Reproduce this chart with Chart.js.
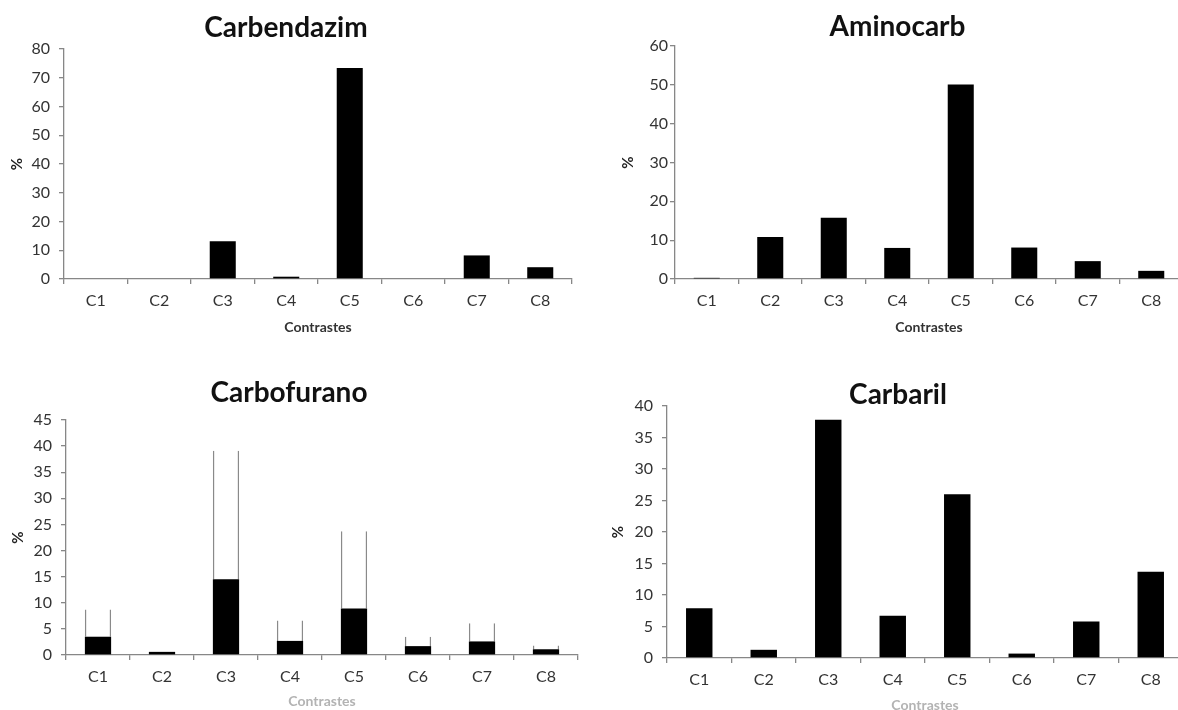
<!DOCTYPE html>
<html>
<head>
<meta charset="utf-8">
<title>Contrastes</title>
<script src="https://cdn.jsdelivr.net/npm/chart.js@4"></script>
<style>
    html, body { margin: 0; padding: 0; background: #fff; }
    body { width: 1178px; height: 710px; overflow: hidden; position: relative; }
    .panel { position: absolute; }
</style>
</head>
<body>
<canvas id="chart-carbendazim" class="panel" width="590" height="350" style="left:0;top:0"></canvas>
<canvas id="chart-aminocarb" class="panel" width="600" height="350" style="left:590px;top:0"></canvas>
<canvas id="chart-carbofurano" class="panel" width="590" height="350" style="left:0;top:370px"></canvas>
<canvas id="chart-carbaril" class="panel" width="600" height="350" style="left:590px;top:370px"></canvas>
<script>
// --- DATA ---

const contrastes = ['C1', 'C2', 'C3', 'C4', 'C5', 'C6', 'C7', 'C8'];

const carbendazim = [0, 0, 13.1, 0.8, 73.4, 0, 8.2, 4.1];
const aminocarb = [0.3, 10.8, 15.8, 8.0, 50.1, 8.1, 4.6, 2.1];
const carbofurano = [3.5, 0.6, 14.5, 2.7, 8.9, 1.7, 2.6, 1.1];
const carbofuranoSup = [8.7, null, 39.1, 6.6, 23.7, 3.5, 6.1, 1.8];
const carbaril = [7.9, 1.3, 37.8, 6.7, 26.0, 0.7, 5.8, 13.7];

// --- SHARED STYLE ---

Chart.defaults.font.family = 'Lato, "Open Sans", sans-serif';
Chart.defaults.color = '#333';

const AXIS_GREY = '#878787';

function blackBars(values) {
    return {
        data: values,
        backgroundColor: '#000',
        borderWidth: 0,
        categoryPercentage: 0.41,
        barPercentage: 1,
        grouped: false,
        order: 1
    };
}

// p: layout numbers for one panel (axis box sizes, paddings)
function makePanel(id, title, datasets, yMax, yStep, p) {
    const ctx = document.getElementById(id).getContext('2d');
    return new Chart(ctx, {
        type: 'bar',
        data: { labels: contrastes, datasets: datasets },
        options: {
            responsive: false,
            animation: false,
            events: [],
            layout: { padding: { left: p.padLeft, right: p.padRight, top: 0, bottom: 0 } },
            plugins: {
                legend: { display: false },
                tooltip: { enabled: false },
                title: {
                    display: true,
                    text: title,
                    color: '#111',
                    font: { size: 28, weight: 'bold' },
                    padding: { top: p.titleTop, bottom: p.titleBottom }
                }
            },
            scales: {
                x: {
                    afterFit: (scale) => { scale.height = p.xHeight; },
                    border: { color: AXIS_GREY, width: 1.3 },
                    grid: { display: true, offset: true, drawOnChartArea: false, tickLength: 5, color: AXIS_GREY, lineWidth: 1.3 },
                    ticks: { color: '#333', font: { size: 16 }, padding: 7 },
                    title: {
                        display: true,
                        text: 'Contrastes',
                        color: p.xTitleColor,
                        font: { size: 14, weight: 'bold' },
                        padding: { top: 0, bottom: p.xTitleBottom }
                    }
                },
                y: {
                    min: 0,
                    max: yMax,
                    afterFit: (scale) => { scale.width = p.yWidth; },
                    border: { color: AXIS_GREY, width: 1.3 },
                    grid: { display: true, drawOnChartArea: false, tickLength: 5, color: AXIS_GREY, lineWidth: 1.3 },
                    ticks: { stepSize: yStep, color: '#333', font: { size: 16 }, padding: p.yTickPad },
                    title: {
                        display: true,
                        text: '%',
                        color: '#222',
                        font: { size: 15, weight: 'bold' },
                        padding: { top: p.yTitleTop, bottom: 0 }
                    }
                }
            }
        }
    });
}

// --- CHARTS ---

makePanel('chart-carbendazim', 'Carbendazim', [blackBars(carbendazim)], 80, 10, {
    padLeft: 0, padRight: 18, yWidth: 64, xHeight: 71,
    titleTop: 10.8, titleBottom: 4.6, xTitleBottom: 14.4, xTitleColor: '#333',
    yTickPad: 9, yTitleTop: 8
});

makePanel('chart-aminocarb', 'Aminocarb', [blackBars(aminocarb)], 60, 10, {
    padLeft: 22, padRight: 7, yWidth: 63, xHeight: 71,
    titleTop: 9.8, titleBottom: 2.6, xTitleBottom: 14.4, xTitleColor: '#333',
    yTickPad: 2, yTitleTop: 7
});

// Carbofurano: black bar plus an open upper range (side lines only)
const carbofuranoRange = carbofurano.map((v, i) => carbofuranoSup[i] === null ? null : [v, carbofuranoSup[i]]);

makePanel('chart-carbofurano', 'Carbofurano', [
    blackBars(carbofurano),
    {
        data: carbofuranoRange,
        backgroundColor: 'rgba(255,255,255,0)',
        borderColor: '#8a8a8a',
        borderWidth: { top: 0, bottom: 0, left: 1.3, right: 1.3 },
        borderSkipped: false,
        categoryPercentage: 0.41,
        barPercentage: 1,
        grouped: false,
        order: 2
    }
], 45, 5, {
    padLeft: 0, padRight: 12, yWidth: 66, xHeight: 65,
    titleTop: 5.8, titleBottom: 10.6, xTitleBottom: 9.9, xTitleColor: '#b3b3b3',
    yTickPad: 9, yTitleTop: 9
});

makePanel('chart-carbaril', 'Carbaril', [blackBars(carbaril)], 40, 5, {
    padLeft: 23, padRight: 7, yWidth: 54, xHeight: 62,
    titleTop: 7.8, titleBottom: -5.4, xTitleBottom: 6.4, xTitleColor: '#b3b3b3',
    yTickPad: 9, yTitleTop: -4
});
</script>
</body>
</html>
